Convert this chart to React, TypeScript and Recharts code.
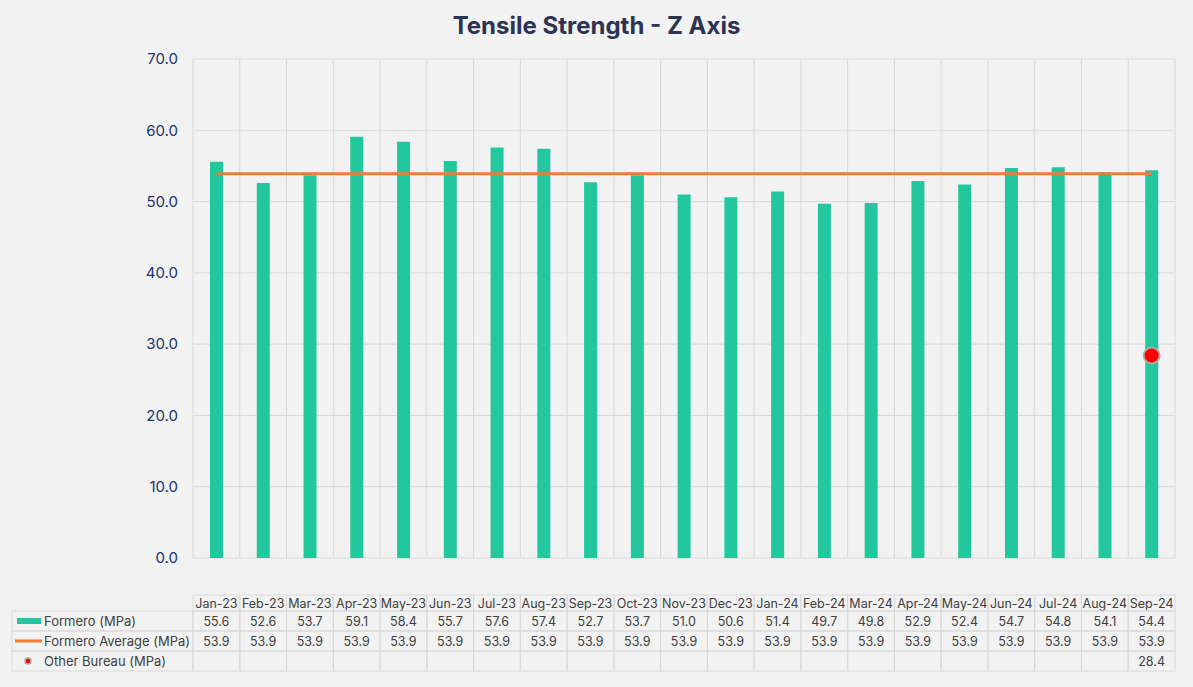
import { Bar, CartesianGrid, ComposedChart, Customized, Line, XAxis, YAxis } from 'recharts';

const months = [
  'Jan-23', 'Feb-23', 'Mar-23', 'Apr-23', 'May-23', 'Jun-23', 'Jul-23', 'Aug-23', 'Sep-23', 'Oct-23', 'Nov-23',
  'Dec-23', 'Jan-24', 'Feb-24', 'Mar-24', 'Apr-24', 'May-24', 'Jun-24', 'Jul-24', 'Aug-24', 'Sep-24',
];
const formero = [55.6, 52.6, 53.7, 59.1, 58.4, 55.7, 57.6, 57.4, 52.7, 53.7, 51.0, 50.6, 51.4, 49.7, 49.8, 52.9, 52.4, 54.7, 54.8, 54.1, 54.4];
const formeroAvg = [53.9, 53.9, 53.9, 53.9, 53.9, 53.9, 53.9, 53.9, 53.9, 53.9, 53.9, 53.9, 53.9, 53.9, 53.9, 53.9, 53.9, 53.9, 53.9, 53.9, 53.9];
const otherBureau: (number | null)[] = [null, null, null, null, null, null, null, null, null, null, null, null, null, null, null, null, null, null, null, null, 28.4];
const yTicks = [0, 10, 20, 30, 40, 50, 60, 70];

const seriesNames = ['Formero (MPa)', 'Formero Average (MPa)', 'Other Bureau (MPa)'];

const W = 1193;
const H = 687;
const M = { top: 59, right: 18, left: 133, bottom: 0 };
const Y_AXIS_W = 60;
const PLOT_W = W - M.left - Y_AXIS_W - M.right;
const COL_W = PLOT_W / months.length;

const GREEN = '#22c79e';
const ORANGE = '#ed7d31';
const GRID = '#d9d9d9';
const TXT = '#404040';
const FONT = 'Inter, "Noto Sans", sans-serif';

const data = months.map((m, i) => ({
  month: m,
  formero: formero[i],
  avg: formeroAvg[i],
  other: otherBureau[i],
}));

// row layout of the data table, relative to the axis line
const HEAD_TOP = 37;
const HEAD_H = 16;
const ROW_H = 20;

function TableTick(props: any) {
  const { x, y, payload, index } = props;
  const i = index ?? payload.index;
  const left = x - COL_W / 2;
  const rows = [formero[i], formeroAvg[i], otherBureau[i]];
  const rowTop = y + HEAD_TOP + HEAD_H;
  return (
    <g fontFamily={FONT} fontSize={12.5} fill={TXT}>
      <rect x={left} y={y + HEAD_TOP} width={COL_W} height={HEAD_H} fill="none" stroke={GRID} />
      <text x={x} y={y + HEAD_TOP + HEAD_H / 2} textAnchor="middle" dominantBaseline="central">
        {payload.value}
      </text>
      {rows.map((v, r) => (
        <g key={r}>
          <rect x={left} y={rowTop + r * ROW_H} width={COL_W} height={ROW_H} fill="none" stroke={GRID} />
          {v != null && (
            <text x={x} y={rowTop + r * ROW_H + ROW_H / 2} textAnchor="middle" dominantBaseline="central">
              {v.toFixed(1)}
            </text>
          )}
        </g>
      ))}
      {i === 0 && (
        <g>
          {seriesNames.map((name, r) => {
            const cy = rowTop + r * ROW_H + ROW_H / 2;
            return (
              <g key={name}>
                <rect x={12} y={rowTop + r * ROW_H} width={left - 12} height={ROW_H} fill="none" stroke={GRID} />
                {r === 0 && <rect x={17} y={cy - 3} width={24} height={6} fill={GREEN} />}
                {r === 1 && <line x1={15} x2={42} y1={cy} y2={cy} stroke={ORANGE} strokeWidth={3} />}
                {r === 2 && <circle cx={28} cy={cy} r={3} fill="red" stroke="#aaa" strokeWidth={1.5} />}
                <text x={44} y={cy} dominantBaseline="central" fontSize={13}>
                  {name}
                </text>
              </g>
            );
          })}
        </g>
      )}
    </g>
  );
}

function Title() {
  return (
    <text x={W / 2} y={25} textAnchor="middle" dominantBaseline="central" fontFamily={FONT} fontSize={24} fontWeight={700} fill="#2d3352">
      Tensile Strength - Z Axis
    </text>
  );
}

export default function App() {
  return (
    <div style={{ position: 'absolute', left: 0, top: 0, width: W, height: H, background: '#f2f2f2' }}>
      <ComposedChart width={W} height={H} data={data} margin={M}>
        <CartesianGrid
          stroke={GRID}
          verticalCoordinatesGenerator={({ offset }: any) =>
            Array.from({ length: months.length + 1 }, (_, i) => offset.left + (i * offset.width) / months.length)
          }
        />
        <XAxis
          dataKey="month"
          height={129}
          axisLine={false}
          tickLine={false}
          tickSize={0}
          tickMargin={0}
          interval={0}
          tick={<TableTick />}
        />
        <YAxis
          width={Y_AXIS_W}
          domain={[0, 70]}
          ticks={yTicks}
          axisLine={false}
          tickLine={false}
          tickSize={0}
          tickMargin={15}
          tickFormatter={(v: number) => v.toFixed(1)}
          tick={{ fontSize: 15, fill: '#1a3370', fontFamily: FONT }}
        />
        <Bar dataKey="formero" fill={GREEN} barSize={13} isAnimationActive={false} />
        <Line dataKey="avg" stroke={ORANGE} strokeWidth={3} dot={false} isAnimationActive={false} />
        <Line
          dataKey="other"
          stroke="none"
          dot={{ r: 8, fill: 'red', stroke: '#aaa', strokeWidth: 2 }}
          isAnimationActive={false}
        />
        <Customized component={Title} />
      </ComposedChart>
    </div>
  );
}
